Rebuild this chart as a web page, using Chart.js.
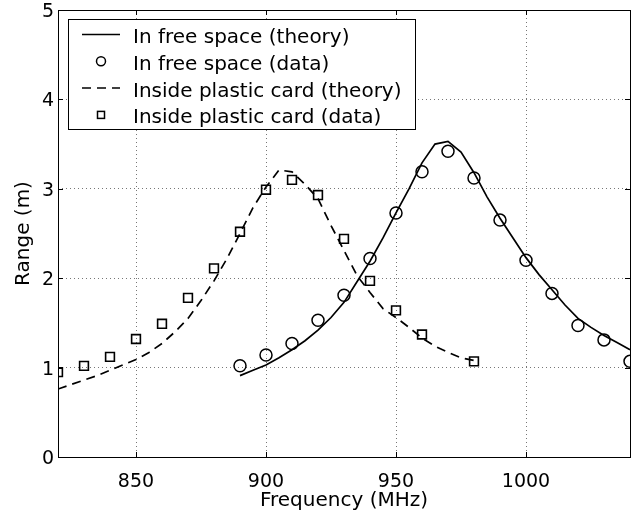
<!DOCTYPE html>
<html><head><meta charset="utf-8">
<script src="https://cdn.jsdelivr.net/npm/chart.js@4/dist/chart.umd.min.js"></script>
<style>html,body{margin:0;padding:0;background:#fff}#wrap{width:632px;height:513px}</style>
</head><body><div id="wrap"><canvas id="c" width="632" height="513"></canvas></div>
<script>
// ---- data ----
const xTickValues = [850, 900, 950, 1000];
const yTickValues = [0, 1, 2, 3, 4, 5];
const seriesLabels = ['In free space (theory)', 'In free space (data)', 'Inside plastic card (theory)', 'Inside plastic card (data)'];

const freeTheoryFreq = [890,895,900,905,910,915,920,925,930,935,940,945,950,955,960,965,970,975,980,985,990,995,1000,1005,1010,1015,1020,1025,1030,1035,1040];
const freeTheory     = [0.91,0.97,1.03,1.11,1.20,1.30,1.42,1.56,1.73,1.96,2.19,2.45,2.73,3.00,3.29,3.50,3.53,3.41,3.18,2.91,2.67,2.45,2.23,2.04,1.87,1.70,1.55,1.45,1.36,1.28,1.20];

const freeDataFreq = [890,900,910,920,930,940,950,960,970,980,990,1000,1010,1020,1030,1040];
const freeData     = [1.02,1.14,1.27,1.53,1.81,2.22,2.73,3.19,3.42,3.12,2.65,2.20,1.83,1.47,1.31,1.07];

const cardTheoryFreq = [820,825,830,835,840,845,850,855,860,865,870,875,880,885,890,895,900,905,910,915,920,925,930,935,940,945,950,955,960,965,970,975,980];
const cardTheory     = [0.76,0.81,0.86,0.91,0.97,1.03,1.09,1.17,1.27,1.40,1.55,1.75,1.97,2.22,2.50,2.79,3.02,3.21,3.19,3.05,2.89,2.59,2.31,2.03,1.84,1.66,1.56,1.45,1.33,1.24,1.17,1.11,1.08];

const cardDataFreq = [820,830,840,850,860,870,880,890,900,910,920,930,940,950,960,980];
const cardData     = [0.95,1.02,1.12,1.32,1.49,1.78,2.11,2.52,2.99,3.10,2.93,2.44,1.97,1.64,1.37,1.07];

const xTitle = 'Frequency (MHz)';
const yTitle = 'Range (m)';

// ---- chart ----
const FONT = "'DejaVu Sans', sans-serif";
const zip = (xs, ys) => xs.map((x, i) => ({x: x, y: ys[i]}));

const framePlugin = {
  id: 'frame',
  afterDraw(chart) {
    const ctx = chart.ctx, a = chart.chartArea;
    const xs = chart.scales.x, ys = chart.scales.y;
    ctx.save();
    ctx.strokeStyle = '#000';
    ctx.lineWidth = 1;
    ctx.setLineDash([]);
    // inward ticks
    ctx.beginPath();
    xs.ticks.forEach(t => {
      const px = Math.round(xs.getPixelForValue(t.value)) + 0.5;
      ctx.moveTo(px, a.bottom); ctx.lineTo(px, a.bottom - 5);
      ctx.moveTo(px, a.top); ctx.lineTo(px, a.top + 5);
    });
    ys.ticks.forEach(t => {
      const py = Math.round(ys.getPixelForValue(t.value)) + 0.5;
      ctx.moveTo(a.left, py); ctx.lineTo(a.left + 5, py);
      ctx.moveTo(a.right, py); ctx.lineTo(a.right - 5, py);
    });
    ctx.stroke();
    // frame
    ctx.strokeRect(Math.round(a.left) + 0.5, Math.round(a.top) + 0.5, Math.round(a.right - a.left), Math.round(a.bottom - a.top));

    // legend box
    const bx = 68.5, by = 19.5, bw = 347, bh = 110;
    ctx.fillStyle = '#fff';
    ctx.fillRect(bx, by, bw, bh);
    ctx.strokeRect(bx, by, bw, bh);
    ctx.font = '20px ' + FONT;
    ctx.fillStyle = '#000';
    ctx.textBaseline = 'alphabetic';
    ctx.textAlign = 'left';
    chart.data.datasets.forEach((ds, i) => {
      const base = 43 + 26.8 * i;
      const cy = base - 8.5;
      ctx.lineWidth = 1.5;
      if (ds.showLine) {
        ctx.setLineDash(ds.borderDash || []);
        ctx.beginPath(); ctx.moveTo(82, cy); ctx.lineTo(120, cy); ctx.stroke();
        ctx.setLineDash([]);
      } else if (ds.pointStyle === 'rect') {
        ctx.strokeRect(97.5, cy - 3.5, 7, 7);
      } else {
        ctx.beginPath(); ctx.arc(101, cy, 4.5, 0, Math.PI * 2); ctx.stroke();
      }
      ctx.fillText(ds.label, 133, base);
    });
    ctx.restore();
  }
};

new Chart(document.getElementById('c'), {
  type: 'scatter',
  data: {
    datasets: [
      {label: seriesLabels[0], data: zip(freeTheoryFreq, freeTheory), showLine: true, borderColor: '#000', borderWidth: 1.7, pointRadius: 0, fill: false, tension: 0},
      {label: seriesLabels[1], data: zip(freeDataFreq, freeData), showLine: false, pointStyle: 'circle', pointRadius: 6, borderColor: '#000', backgroundColor: 'rgba(0,0,0,0)', pointBorderWidth: 1.5},
      {label: seriesLabels[2], data: zip(cardTheoryFreq, cardTheory), showLine: true, borderColor: '#000', borderWidth: 1.7, borderDash: [9, 6], pointRadius: 0, fill: false, tension: 0},
      {label: seriesLabels[3], data: zip(cardDataFreq, cardData), showLine: false, pointStyle: 'rect', pointRadius: 6.2, borderColor: '#000', backgroundColor: 'rgba(0,0,0,0)', pointBorderWidth: 1.6}
    ]
  },
  options: {
    responsive: false,
    animation: false,
    devicePixelRatio: 1,
    layout: {autoPadding: false, padding: {top: 10, right: 2, left: 0, bottom: 0}},
    plugins: {legend: {display: false}, tooltip: {enabled: false}},
    scales: {
      x: {
        type: 'linear', min: 820, max: 1040,
        afterBuildTicks: s => { s.ticks = xTickValues.map(v => ({value: v})); },
        afterFit: s => { s.height = 56; s.paddingLeft = 0; s.paddingRight = 0; },
        grid: {color: '#777', lineWidth: 1, drawTicks: false},
        border: {display: false, dash: [1, 3]},
        ticks: {color: '#000', font: {family: FONT, size: 19}, padding: 14, maxRotation: 0, callback: v => String(v)},
        title: {display: true, text: xTitle, color: '#000', font: {family: FONT, size: 20}, padding: {top: 0, bottom: 0}}
      },
      y: {
        type: 'linear', min: 0, max: 5,
        afterBuildTicks: s => { s.ticks = yTickValues.map(v => ({value: v})); },
        afterFit: s => { s.width = 58; s.paddingTop = 0; s.paddingBottom = 0; },
        grid: {color: '#777', lineWidth: 1, drawTicks: false},
        border: {display: false, dash: [1, 3]},
        ticks: {color: '#000', font: {family: FONT, size: 19}, padding: 4, labelOffset: 2, callback: v => String(v)},
        title: {display: true, text: yTitle, color: '#000', font: {family: FONT, size: 20}, padding: {top: 12, bottom: 0}}
      }
    }
  },
  plugins: [framePlugin]
});
</script>
</body></html>
